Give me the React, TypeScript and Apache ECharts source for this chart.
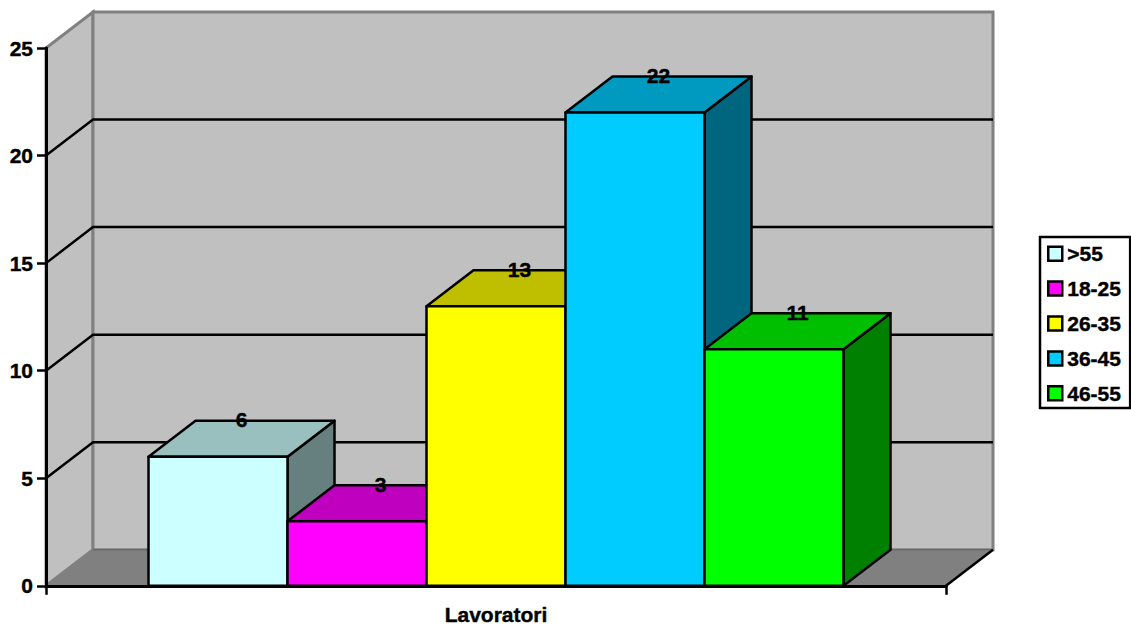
import React, { useEffect, useRef } from "react";
import * as echarts from "echarts";

const categories = ["Lavoratori"];
const ageGroups = [">55", "18-25", "26-35", "36-45", "46-55"];
const workers = [6, 3, 13, 22, 11];
const groupColors = ["#ccffff", "#ff00ff", "#ffff00", "#00ccff", "#00ff00"];
const yTicks = [0, 5, 10, 15, 20, 25];

const FONT = '"Liberation Sans", Arial, sans-serif';
const DEPTH_X = 47;
const DEPTH_Y = 36;
const GAP_WIDTH = 0.295;

// Darkens a #rrggbb colour; used for the shaded top and side faces.
function shade(hex: string, k: number): string {
  const n = parseInt(hex.slice(1), 16);
  const c = [(n >> 16) & 255, (n >> 8) & 255, n & 255].map((v) => Math.round(v * k));
  return `rgb(${c[0]},${c[1]},${c[2]})`;
}

// Side wall, back wall, floor and the gridlines that wrap around the walls.
function renderWalls(params: any, api: any) {
  const cs = params.coordSys;
  const left = cs.x;
  const right = cs.x + cs.width;
  const bottom = cs.y + cs.height;
  const top = cs.y;
  const wall = { fill: "#c0c0c0", stroke: "#808080", lineWidth: 3, lineJoin: "miter" };
  const children: any[] = [
    {
      type: "polygon",
      shape: { points: [[left, bottom], [left + DEPTH_X, bottom - DEPTH_Y], [left + DEPTH_X, top - DEPTH_Y], [left, top]] },
      style: wall,
    },
    {
      type: "polygon",
      shape: { points: [[left + DEPTH_X, top - DEPTH_Y], [right + DEPTH_X, top - DEPTH_Y], [right + DEPTH_X, bottom - DEPTH_Y], [left + DEPTH_X, bottom - DEPTH_Y]] },
      style: wall,
    },
    {
      type: "polygon",
      shape: { points: [[left, bottom], [right, bottom], [right + DEPTH_X, bottom - DEPTH_Y], [left + DEPTH_X, bottom - DEPTH_Y]] },
      style: { fill: "#808080", stroke: "none" },
    },
    {
      type: "line",
      shape: { x1: left + DEPTH_X, y1: bottom - DEPTH_Y, x2: right + DEPTH_X, y2: bottom - DEPTH_Y },
      style: { stroke: "#606060", lineWidth: 1 },
    },
    {
      type: "line",
      shape: { x1: right, y1: bottom, x2: right + DEPTH_X, y2: bottom - DEPTH_Y },
      style: { stroke: "#000", lineWidth: 2.5 },
    },
  ];
  yTicks
    .filter((t) => t > 0 && t < 25)
    .forEach((t) => {
      const y = api.coord([0, t])[1];
      children.push({
        type: "polyline",
        shape: { points: [[left, y], [left + DEPTH_X, y - DEPTH_Y], [right + DEPTH_X, y - DEPTH_Y]] },
        style: { stroke: "#000", lineWidth: 2.5, fill: "none" },
      });
    });
  return { type: "group", children };
}

// One extruded bar: side and top faces, then the front face and its value.
function makeBarRenderer(index: number) {
  return (params: any, api: any) => {
    const band = api.size([1, 0])[0];
    const barW = band / (1 + GAP_WIDTH) / ageGroups.length;
    const center = api.coord([api.value(0), 0])[0];
    const x0 = center - (barW * ageGroups.length) / 2 + barW * index;
    const x1 = x0 + barW;
    const yBase = api.coord([api.value(0), 0])[1];
    const yTop = api.coord([api.value(0), api.value(1)])[1];
    const color = groupColors[index];
    const edge = { stroke: "#000", lineWidth: 2.5, lineJoin: "round" };
    return {
      type: "group",
      children: [
        {
          type: "polygon",
          shape: { points: [[x1, yBase], [x1 + DEPTH_X, yBase - DEPTH_Y], [x1 + DEPTH_X, yTop - DEPTH_Y], [x1, yTop]] },
          style: { fill: shade(color, 0.5), ...edge },
        },
        {
          type: "polygon",
          shape: { points: [[x0, yTop], [x0 + DEPTH_X, yTop - DEPTH_Y], [x1 + DEPTH_X, yTop - DEPTH_Y], [x1, yTop]] },
          style: { fill: shade(color, 0.75), ...edge },
        },
        {
          type: "rect",
          shape: { x: x0, y: yTop, width: barW, height: yBase - yTop },
          style: { fill: color, ...edge },
        },
        {
          type: "text",
          style: {
            text: String(api.value(1)),
            x: (x0 + x1) / 2 + DEPTH_X / 2,
            y: yTop - DEPTH_Y - 1,
            align: "center",
            verticalAlign: "middle",
            fill: "#000",
            stroke: "#000",
            lineWidth: 0.4,
            font: `bold 21px ${FONT}`,
          },
        },
      ],
    };
  };
}

export default function App() {
  const ref = useRef<HTMLDivElement>(null);

  useEffect(() => {
    const chart = echarts.init(ref.current!, undefined, { renderer: "svg" });
    const boldText = {
      fontFamily: FONT,
      fontWeight: "bold" as const,
      fontSize: 21,
      color: "#000",
      textBorderColor: "#000",
      textBorderWidth: 0.4,
    };
    chart.setOption({
      animation: false,
      backgroundColor: "#fff",
      textStyle: { fontFamily: FONT },
      grid: { left: 46, top: 48, width: 900, height: 538, containLabel: false },
      xAxis: {
        type: "category",
        data: categories,
        z: 10,
        axisLine: { lineStyle: { color: "#000", width: 3 } },
        axisTick: { show: true, length: 9, alignWithLabel: false, lineStyle: { color: "#000", width: 2.5 } },
        axisLabel: { ...boldText, margin: 18 },
        splitLine: { show: false },
      },
      yAxis: {
        type: "value",
        min: 0,
        max: 25,
        interval: 5,
        z: 10,
        axisLine: { show: true, lineStyle: { color: "#000", width: 3 } },
        axisTick: { show: true, length: 9, lineStyle: { color: "#000", width: 2.5 } },
        axisLabel: { ...boldText, margin: 13 },
        splitLine: { show: false },
      },
      legend: {
        orient: "vertical",
        left: 1040,
        top: 237,
        data: ageGroups,
        icon: "rect",
        itemWidth: 14,
        itemHeight: 14,
        itemGap: 13.5,
        padding: [6, 9, 4, 7],
        borderColor: "#000",
        borderWidth: 2.5,
        backgroundColor: "#fff",
        itemStyle: { borderColor: "#000", borderWidth: 2.5 },
        textStyle: { ...boldText },
        selectedMode: false,
      },
      series: [
        {
          type: "custom",
          name: "walls",
          data: [[0, 0]],
          encode: { x: 0, y: 1 },
          renderItem: renderWalls,
          silent: true,
          z: 1,
        },
        ...ageGroups.map((name, i) => ({
          type: "custom",
          name,
          data: [[0, workers[i]]],
          encode: { x: 0, y: 1 },
          itemStyle: { color: groupColors[i] },
          renderItem: makeBarRenderer(i),
          silent: true,
          z: 2,
        })),
      ],
    });
    return () => chart.dispose();
  }, []);

  return <div ref={ref} style={{ position: "absolute", left: 0, top: 0, width: 1131, height: 625 }} />;
}
